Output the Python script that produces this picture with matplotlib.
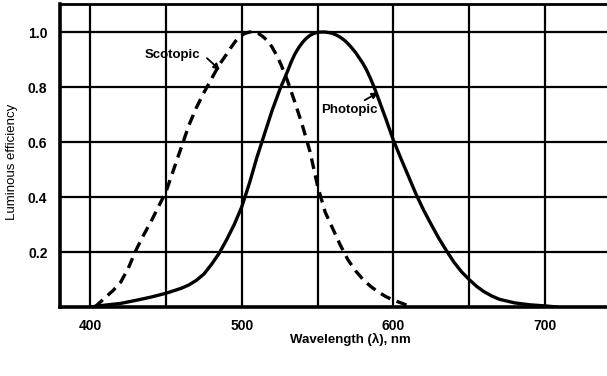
import matplotlib
matplotlib.use('Agg')
import matplotlib.pyplot as plt

plt.rcParams['font.family'] = ['Liberation Sans', 'DejaVu Sans']

# wavelength (nm) and relative luminous efficiency
scotopic_nm = [403, 407, 410, 415, 420, 425, 430, 435, 440, 445, 450, 455, 460, 465, 470,
               475, 480, 485, 490, 493, 496, 499, 502, 505, 508, 511, 514, 517, 520, 523,
               526, 530, 535, 540, 545, 550, 555, 560, 565, 570, 575, 580, 585, 590,
               595, 600, 605, 612]
scotopic_eff = [0.0, 0.02, 0.035, 0.06, 0.09, 0.14, 0.205, 0.26, 0.31, 0.365, 0.42, 0.50, 0.58, 0.66, 0.725,
                0.78, 0.83, 0.88, 0.92, 0.945, 0.968, 0.985, 0.995, 1.0, 1.0, 0.995, 0.983, 0.968, 0.945, 0.915,
                0.88, 0.825, 0.745, 0.66, 0.565, 0.44, 0.345, 0.285, 0.225, 0.172, 0.132, 0.10, 0.075, 0.055,
                0.038, 0.025, 0.015, 0.0]

photopic_nm = [400, 410, 420, 430, 440, 450, 460, 465, 470, 475, 480, 485, 490, 495,
               500, 505, 510, 515, 520, 525, 530, 532.5, 535, 537.5, 540, 542.5, 545, 547.5,
               550, 552.5, 555, 557.5, 560, 562.5, 565, 567.5, 570, 572.5, 575, 577.5, 580,
               582.5, 585, 587.5, 590, 595, 600, 605, 610, 615, 620, 625, 630, 635,
               640, 645, 650, 655, 660, 665, 670, 680, 690, 700, 708]
photopic_eff = [0.0, 0.007, 0.013, 0.024, 0.036, 0.05, 0.068, 0.08, 0.097, 0.12, 0.155, 0.195, 0.245, 0.30,
                0.365, 0.45, 0.545, 0.63, 0.715, 0.79, 0.855, 0.89, 0.92, 0.943, 0.962, 0.977, 0.988, 0.995,
                0.999, 1.0, 1.0, 0.998, 0.995, 0.989, 0.981, 0.971, 0.958, 0.943, 0.926, 0.906, 0.885,
                0.86, 0.83, 0.797, 0.76, 0.685, 0.607, 0.54, 0.475, 0.41, 0.352, 0.30, 0.25, 0.205,
                0.163, 0.128, 0.10, 0.075, 0.055, 0.04, 0.028, 0.015, 0.008, 0.004, 0.0]

x_ticks = [400, 500, 600, 700]
x_minor = [450, 550, 650]
y_ticks = [0.2, 0.4, 0.6, 0.8, 1.0]

fig = plt.figure(figsize=(6.07, 3.76), dpi=100)
ax = fig.add_axes([60 / 607, 1 - 307 / 376, 1 - 60 / 607, 303 / 376])

ax.set_xlim(380, 741)
ax.set_ylim(0, 1.102)

ax.set_xticks(x_ticks)
ax.set_xticks(x_minor, minor=True)
ax.set_yticks(y_ticks)
ax.set_xticklabels([str(t) for t in x_ticks], fontsize=10, fontweight='bold')
ax.set_yticklabels(['%.1f' % t for t in y_ticks], fontsize=10, fontweight='bold')
ax.tick_params(axis='both', which='both', length=0)
ax.tick_params(axis='x', pad=9)
ax.tick_params(axis='y', pad=9)

ax.grid(True, which='both', color='black', linewidth=1.6)
ax.set_axisbelow(True)

for side in ['left', 'bottom']:
    ax.spines[side].set_linewidth(2.6)
ax.spines['top'].set_linewidth(2.0)
ax.spines['right'].set_visible(False)

ax.plot(scotopic_nm, scotopic_eff, color='black', linewidth=2.4,
        linestyle=(0, (3.2, 2.0)), solid_capstyle='butt', dash_joinstyle='round')
ax.plot(photopic_nm, photopic_eff, color='black', linewidth=2.4,
        solid_capstyle='round', solid_joinstyle='round')

# labels with short leader arrows
ax.text(454, 0.915, 'Scotopic', fontsize=9.5, fontweight='bold', ha='center', va='center')
ax.annotate('', xy=(485.5, 0.862), xytext=(477, 0.905),
            arrowprops=dict(arrowstyle='-|>', color='black', lw=1.3,
                            shrinkA=0, shrinkB=0, mutation_scale=9))
ax.text(571, 0.716, 'Photopic', fontsize=9.5, fontweight='bold', ha='center', va='center')
ax.annotate('', xy=(590, 0.78), xytext=(581, 0.752),
            arrowprops=dict(arrowstyle='-|>', color='black', lw=1.3,
                            shrinkA=0, shrinkB=0, mutation_scale=9))

fig.text(12 / 607, 1 - 162 / 376, 'Luminous efficiency', rotation=90,
         ha='center', va='center', fontsize=9.5)
fig.text(350 / 607, 1 - 339 / 376, 'Wavelength (λ), nm',
         ha='center', va='center', fontsize=9.5, fontweight='bold')

fig.savefig('out.png', dpi=100)
